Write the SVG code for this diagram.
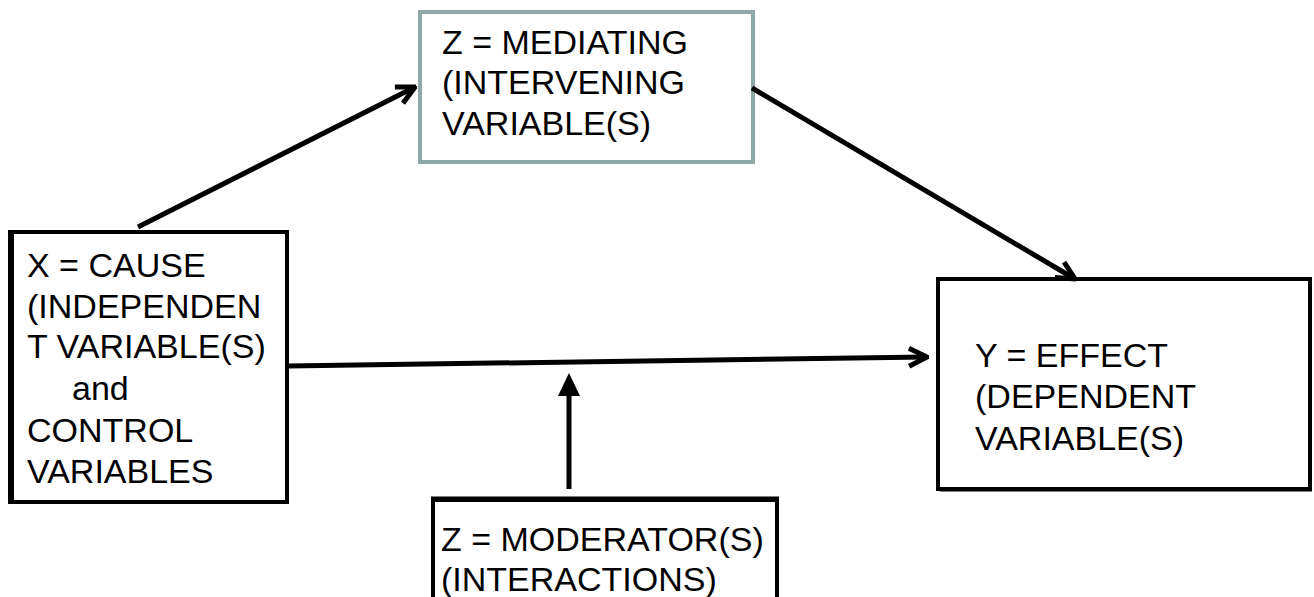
<svg xmlns="http://www.w3.org/2000/svg" width="1314" height="597" viewBox="0 0 1314 597">
<style>
  .t { font-family: "Liberation Sans", Arial, sans-serif; font-size: 34px; fill: #000; }
  .box { fill: #fff; stroke: #000; stroke-width: 4; }
  .conn { stroke: #000; stroke-width: 5; fill: none; stroke-linecap: butt; }
</style>
<defs>
  <marker id="open" viewBox="0 0 24 24" refX="22" refY="12" markerWidth="24" markerHeight="24" markerUnits="userSpaceOnUse" orient="auto">
    <path d="M4,3 L22,12 L4,21" fill="none" stroke="#000" stroke-width="5" stroke-linejoin="miter"/>
  </marker>
</defs>
<rect width="1314" height="597" fill="#fff"/>

<g id="mediating">
  <rect x="420" y="12" width="333" height="150" fill="#fff" stroke="#8fa8a8" stroke-width="4"/>
  <text class="t" x="442" y="54">Z = MEDIATING</text>
  <text class="t" x="442" y="94">(INTERVENING</text>
  <text class="t" x="442" y="135">VARIABLE(S)</text>
</g>

<g id="cause">
  <rect class="box" x="11" y="232" width="276" height="270"/>
  <line x1="11" y1="230" x2="11" y2="504" stroke="#000" stroke-width="6"/>
  <text class="t" x="27" y="277">X = CAUSE</text>
  <text class="t" x="27" y="318">(INDEPENDEN</text>
  <text class="t" x="27" y="358">T VARIABLE(S)</text>
  <text class="t" x="72" y="400">and</text>
  <text class="t" x="27" y="442">CONTROL</text>
  <text class="t" x="27" y="483">VARIABLES</text>
</g>

<g id="effect">
  <rect class="box" x="938" y="279" width="372" height="210"/>
  <line x1="940" y1="490" x2="1312" y2="490" stroke="#000" stroke-width="3"/>
  <text class="t" x="975" y="367">Y = EFFECT</text>
  <text class="t" x="975" y="408">(DEPENDENT</text>
  <text class="t" x="975" y="450">VARIABLE(S)</text>
</g>

<g id="moderator">
  <rect class="box" x="433" y="500" width="344" height="110"/>
  <line x1="431" y1="499" x2="779" y2="499" stroke="#000" stroke-width="5"/>
  <text class="t" x="441" y="551">Z = MODERATOR(S)</text>
  <text class="t" x="441" y="591">(INTERACTIONS)</text>
</g>

<g id="connectors">
  <line class="conn" x1="138" y1="227" x2="415" y2="87" marker-end="url(#open)"/>
  <line class="conn" x1="752" y1="88" x2="1075" y2="279" marker-end="url(#open)"/>
  <line class="conn" x1="288" y1="366" x2="927" y2="357" stroke-width="4" marker-end="url(#open)"/>
  <line class="conn" x1="569" y1="489" x2="569" y2="396" stroke-width="6"/>
  <path d="M569,373 L580,396 L558,396 Z" fill="#000"/>
</g>
</svg>
